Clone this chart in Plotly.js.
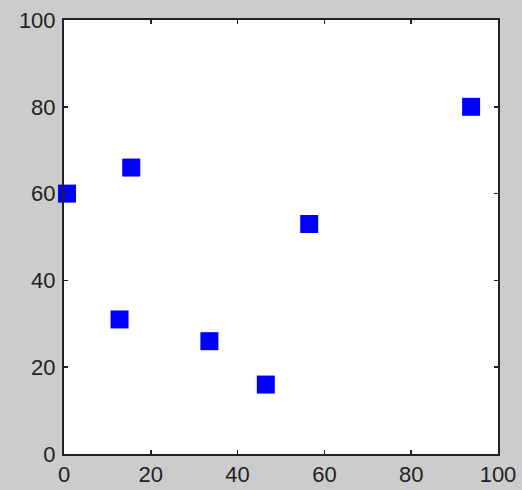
<!DOCTYPE html>
<html><head><meta charset="utf-8">
<script src="https://cdn.plot.ly/plotly-3.0.1.min.js"></script>
<style>html,body{margin:0;padding:0;background:#cccccc;}</style>
</head><body>
<div id="chart" style="width:522px;height:490px;"></div>
<script>
const xValues = [0.7, 15.5, 12.8, 33.5, 46.5, 56.5, 93.8];
const yValues = [60, 66, 31, 26, 16, 53, 80];
const tickVals = [0, 20, 40, 60, 80, 100];
const tickText = ['0', '20', '40', '60', '80', '100'];

const trace = {
  x: xValues, y: yValues, type: 'scatter', mode: 'markers',
  marker: {symbol: 'square', size: 18, color: '#0000ff', line: {width: 0}},
  cliponaxis: false
};
const axisCommon = {
  range: [0, 100], tickvals: tickVals, ticktext: tickText,
  ticks: 'inside', ticklen: 4, tickwidth: 1.5, tickcolor: '#222',
  showline: true, linecolor: '#222', linewidth: 2, mirror: 'ticks',
  showgrid: false, zeroline: false,
  tickfont: {family: 'Liberation Sans, Arial, sans-serif', size: 22, color: '#222'}
};
const layout = {
  width: 522, height: 490,
  paper_bgcolor: '#cccccc', plot_bgcolor: '#ffffff',
  margin: {l: 64, r: 24, t: 20, b: 36},
  showlegend: false,
  xaxis: Object.assign({}, axisCommon, {ticklabelstandoff: 0}),
  yaxis: Object.assign({}, axisCommon, {ticklabelstandoff: 2})
};
Plotly.newPlot('chart', [trace], layout, {displayModeBar: false, staticPlot: true});
</script>
</body></html>
